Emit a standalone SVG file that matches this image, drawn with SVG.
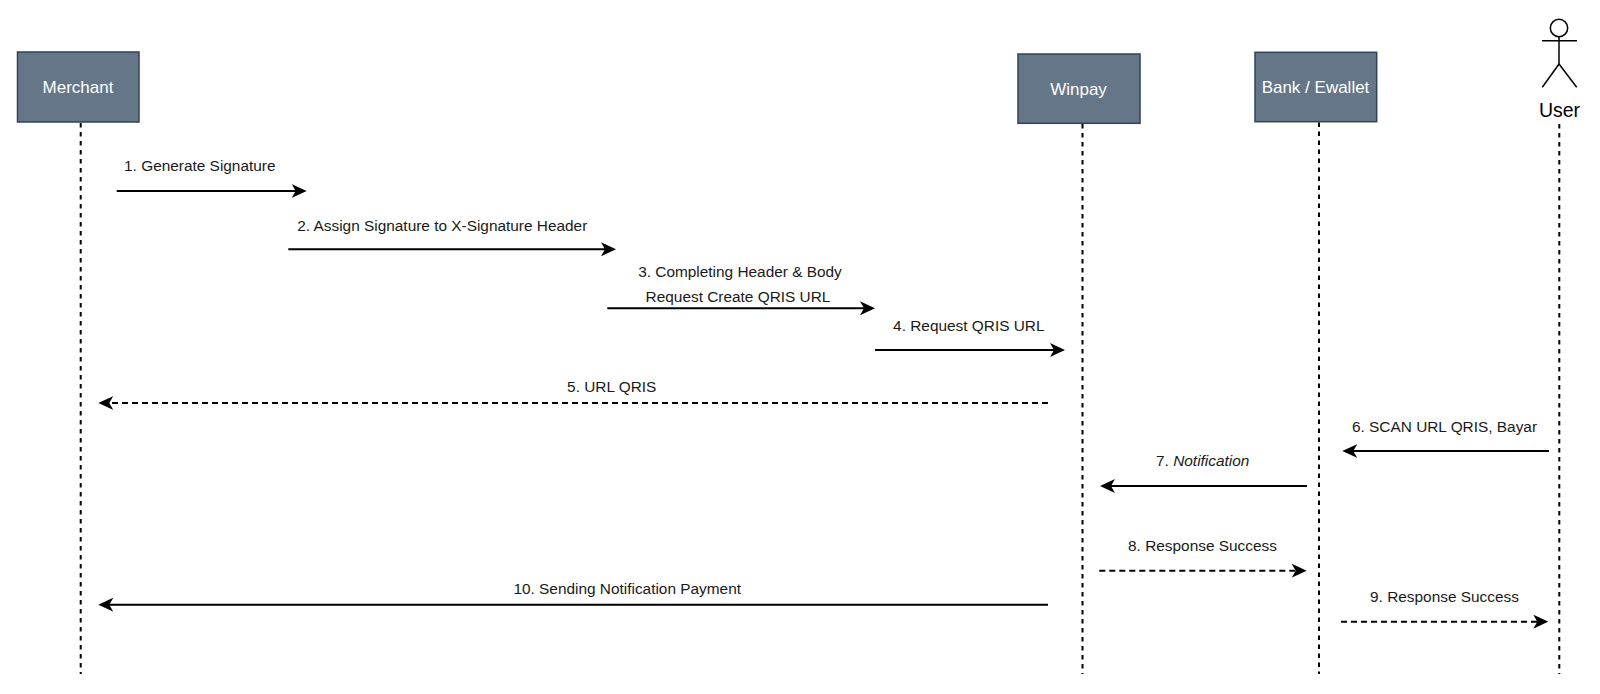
<svg xmlns="http://www.w3.org/2000/svg" width="1600" height="694" viewBox="0 0 1600 694">
<style>
.box{fill:#647687;stroke:#314354;stroke-width:1.5}
.bt{font-family:"Liberation Sans",Arial,sans-serif;font-size:17px;fill:#ffffff;text-anchor:middle}
.life{stroke:#000;stroke-width:2;stroke-dasharray:4.5 4.5;fill:none}
.msg{stroke:#000;stroke-width:2;fill:none}
.dash{stroke-dasharray:6 4}
.lbl{font-family:"Liberation Sans",Arial,sans-serif;font-size:15.4px;fill:#1a1a1a;text-anchor:middle}
</style>
<defs>
<marker id="ah" viewBox="0 0 15 14" refX="12" refY="7" markerWidth="15" markerHeight="14" markerUnits="userSpaceOnUse" orient="auto">
<path d="M0,0 L15,7 L0,14 L4,7 Z" fill="#000"/>
</marker>
</defs>
<rect width="1600" height="694" fill="#fff"/>
<g id="merchant">
<rect class="box" x="17.5" y="52" width="121.5" height="70"/>
<text class="bt" x="78" y="93.3">Merchant</text>
<line class="life" x1="80.7" y1="123" x2="80.7" y2="674"/>
</g>
<g id="winpay">
<rect class="box" x="1018" y="54" width="122" height="69.3"/>
<text class="bt" x="1078.5" y="95">Winpay</text>
<line class="life" x1="1082.5" y1="124" x2="1082.5" y2="674"/>
</g>
<g id="bank">
<rect class="box" x="1255" y="52.3" width="121.7" height="69.4"/>
<text class="bt" x="1315.5" y="93.3">Bank / Ewallet</text>
<line class="life" x1="1319" y1="122.5" x2="1319" y2="674"/>
</g>
<g id="user" stroke="#000" stroke-width="1.5" fill="none">
<circle cx="1559" cy="28" r="8.7" fill="#fff"/>
<line x1="1559" y1="36.7" x2="1559" y2="64"/>
<line x1="1542" y1="40.7" x2="1577" y2="40.7"/>
<line x1="1559" y1="64" x2="1542.3" y2="87.3"/>
<line x1="1559" y1="64" x2="1576.7" y2="87.3"/>
<text x="1559.5" y="117.3" stroke="none" fill="#000" font-family="Liberation Sans,Arial,sans-serif" font-size="19.5" text-anchor="middle">User</text>
<line class="life" x1="1559.3" y1="124" x2="1559.3" y2="674"/>
</g>
<g id="connectors">
<line class="msg" x1="116.7" y1="191" x2="303.7" y2="191" marker-end="url(#ah)"/>
<line class="msg" x1="288.3" y1="249.3" x2="613" y2="249.3" marker-end="url(#ah)"/>
<line class="msg" x1="607.3" y1="308.3" x2="872" y2="308.3" marker-end="url(#ah)"/>
<line class="msg" x1="875" y1="350" x2="1062" y2="350" marker-end="url(#ah)"/>
<line class="msg dash" x1="1048" y1="403" x2="101.3" y2="403" marker-end="url(#ah)"/>
<line class="msg" x1="1549" y1="451" x2="1345.3" y2="451" marker-end="url(#ah)"/>
<line class="msg" x1="1307" y1="486" x2="1103" y2="486" marker-end="url(#ah)"/>
<line class="msg dash" x1="1099.3" y1="570.7" x2="1303.7" y2="570.7" marker-end="url(#ah)"/>
<line class="msg dash" x1="1341" y1="621.7" x2="1545.3" y2="621.7" marker-end="url(#ah)"/>
<line class="msg" x1="1048" y1="604.7" x2="101.3" y2="604.7" marker-end="url(#ah)"/>
<text class="lbl" x="199.8" y="171">1. Generate Signature</text>
<text class="lbl" x="442.3" y="231">2. Assign Signature to X-Signature Header</text>
<text class="lbl" x="740" y="276.7">3. Completing Header &amp; Body</text>
<text class="lbl" x="738" y="302.3">Request Create QRIS URL</text>
<text class="lbl" x="968.8" y="331">4. Request QRIS URL</text>
<text class="lbl" x="611.7" y="391.7">5. URL QRIS</text>
<text class="lbl" x="1444.5" y="431.7">6. SCAN URL QRIS, Bayar</text>
<text class="lbl" x="1202.7" y="465.7">7. <tspan font-style="italic">Notification</tspan></text>
<text class="lbl" x="1202.5" y="550.7">8. Response Success</text>
<text class="lbl" x="1444.5" y="602.3">9. Response Success</text>
<text class="lbl" x="627.2" y="594.3">10. Sending Notification Payment</text>
</g>
</svg>
